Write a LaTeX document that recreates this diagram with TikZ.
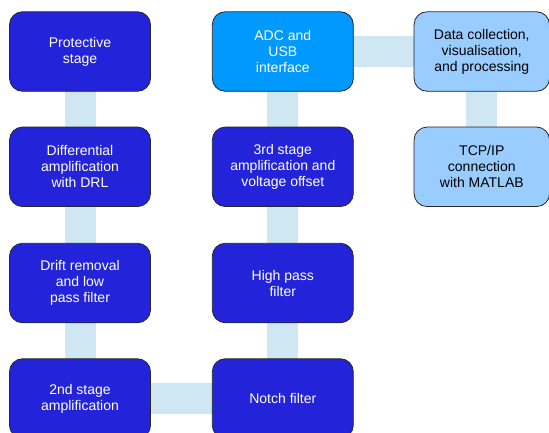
\documentclass[tikz,border=0pt]{standalone}
\usepackage{fontspec}
\setmainfont{Liberation Sans}
\usetikzlibrary{backgrounds}
\definecolor{darkbox}{RGB}{35,35,218}
\definecolor{adcbox}{RGB}{0,153,255}
\definecolor{lightbox}{RGB}{153,204,255}
\definecolor{barcol}{RGB}{207,230,243}
\tikzset{
  box/.style={draw=black!85, line width=0.8pt, rounded corners=13pt,
    minimum width=141pt, minimum height=79.5pt, inner sep=0pt, align=center,
    font=\fontsize{14pt}{16pt}\selectfont},
  darkb/.style={box, fill=darkbox, text=white},
  adcb/.style={box, fill=adcbox, text=white},
  lightb/.style={box, fill=lightbox, text=black, minimum width=135.5pt},
  bar/.style={draw=barcol, line width=31pt}
}
\begin{document}
\begin{tikzpicture}
\useasboundingbox (0pt,0pt) rectangle (549pt,-432pt);
\node[darkb] (p1) at (80pt,-51.5pt) {Protective\\stage};
\node[darkb] (p2) at (80pt,-166.8pt) {Differential\\amplification\\with DRL};
\node[darkb] (p3) at (80pt,-283pt) {Drift removal\\and low\\pass filter};
\node[darkb] (p4) at (80pt,-398.5pt) {2nd stage\\amplification};
\node[darkb] (n) at (282.8pt,-398.5pt) {Notch filter};
\node[darkb] (h) at (282.8pt,-283pt) {High pass\\filter};
\node[darkb] (t) at (282.8pt,-166.8pt) {3rd stage\\amplification and\\voltage offset};
\node[adcb] (a) at (282.8pt,-51.5pt) {ADC and\\USB\\interface};
\node[lightb] (d) at (481.8pt,-51.5pt) {Data collection,\\visualisation,\\and processing};
\node[lightb] (c) at (481.8pt,-166.8pt) {TCP/IP\\connection\\with MATLAB};
\begin{scope}[on background layer]
\draw[bar] (p1.center) -- (p2.center);
\draw[bar] (p2.center) -- (p3.center);
\draw[bar] (p3.center) -- (p4.center);
\draw[bar] (p4.center) -- (n.center);
\draw[bar] (n.center) -- (h.center);
\draw[bar] (h.center) -- (t.center);
\draw[bar] (t.center) -- (a.center);
\draw[bar] (a.center) -- (d.center);
\draw[bar] (d.center) -- (c.center);
\end{scope}
\end{tikzpicture}
\end{document}
